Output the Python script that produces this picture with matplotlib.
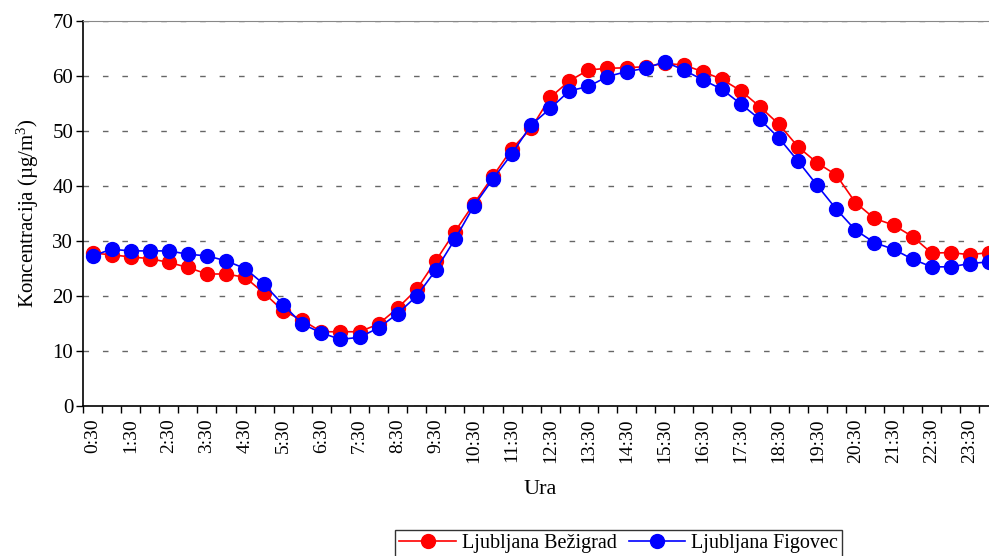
import matplotlib.pyplot as plt
from matplotlib.ticker import FixedLocator, MultipleLocator

plt.rcParams["font.family"] = ["Liberation Serif", "DejaVu Serif"]
plt.rcParams["mathtext.fontset"] = "custom"
plt.rcParams["mathtext.rm"] = "Liberation Serif"
plt.rcParams["mathtext.it"] = "Liberation Serif:italic"

# half-hour slots 0:30 ... 24:00
hours = []
for h in range(0, 24):
    hours.append(f"{h}:30")
    hours.append(f"{h + 1}:00")

bezigrad = [27.8, 27.5, 27.1, 26.8, 26.1, 25.2, 24.0, 24.0, 23.4, 20.5,
            17.3, 15.6, 13.5, 13.5, 13.5, 14.9, 17.8, 21.2, 26.4, 31.7,
            36.8, 41.8, 46.8, 50.5, 56.1, 59.1, 61.1, 61.4, 61.5, 61.7,
            62.3, 62.0, 60.8, 59.4, 57.3, 54.4, 51.2, 47.1, 44.2, 42.0,
            37.0, 34.1, 32.9, 30.8, 27.8, 27.9, 27.5, 27.9]
figovec = [27.3, 28.5, 28.2, 28.2, 28.2, 27.6, 27.3, 26.4, 25.0, 22.1,
           18.4, 14.9, 13.3, 12.1, 12.5, 14.2, 16.8, 20.0, 24.7, 30.3,
           36.4, 41.3, 45.9, 51.1, 54.1, 57.3, 58.1, 59.9, 60.8, 61.4,
           62.6, 61.1, 59.3, 57.6, 54.9, 52.1, 48.7, 44.5, 40.1, 35.8,
           32.0, 29.7, 28.5, 26.7, 25.3, 25.3, 25.9, 26.2]

x = list(range(len(hours)))

fig = plt.figure(figsize=(9.89, 5.56), dpi=100)
ax = fig.add_axes([0.0839, 0.2698, 0.9256, 0.6924])

ax.plot(x, bezigrad, color="red", marker="o", markersize=10, linewidth=1.2,
        label="Ljubljana Bežigrad", clip_on=False, zorder=3)
ax.plot(x, figovec, color="blue", marker="o", markersize=10, linewidth=1.2,
        label="Ljubljana Figovec", clip_on=False, zorder=4)

ax.set_xlim(-0.5, len(hours) - 0.5)
ax.set_ylim(0, 70)
ax.yaxis.set_major_locator(MultipleLocator(10))
ax.grid(axis="y", color="#666666", linestyle=(0, (4, 10)), linewidth=1)

ax.set_xticks(x[::2])
ax.set_xticklabels(hours[::2], rotation=90, fontsize=14)
ax.tick_params(axis="x", which="major", length=0, pad=9)
ax.xaxis.set_minor_locator(FixedLocator([i - 0.5 for i in range(len(hours) + 1)]))
ax.tick_params(axis="x", which="minor", length=5, width=1, direction="out")
ax.tick_params(axis="y", labelsize=15, length=5, width=1, direction="out", pad=2)

ax.spines["right"].set_visible(False)
ax.spines["top"].set_color("#888888")
ax.spines["left"].set_linewidth(1.2)
ax.spines["bottom"].set_linewidth(1.2)

ax.set_xlabel("Ura", fontsize=16, labelpad=12)
ax.set_ylabel("Koncentracija (µg/m$^3$)", fontsize=15, labelpad=8)

leg = fig.legend(loc="lower center", bbox_to_anchor=(0.6256, -0.002), ncol=2,
                 fontsize=14.5, frameon=True, fancybox=False, edgecolor="black",
                 handlelength=2.8, columnspacing=0.6, handletextpad=0.3,
                 borderpad=0.2, borderaxespad=0)
leg.get_frame().set_linewidth(1)

fig.savefig("out.png", dpi=100)
